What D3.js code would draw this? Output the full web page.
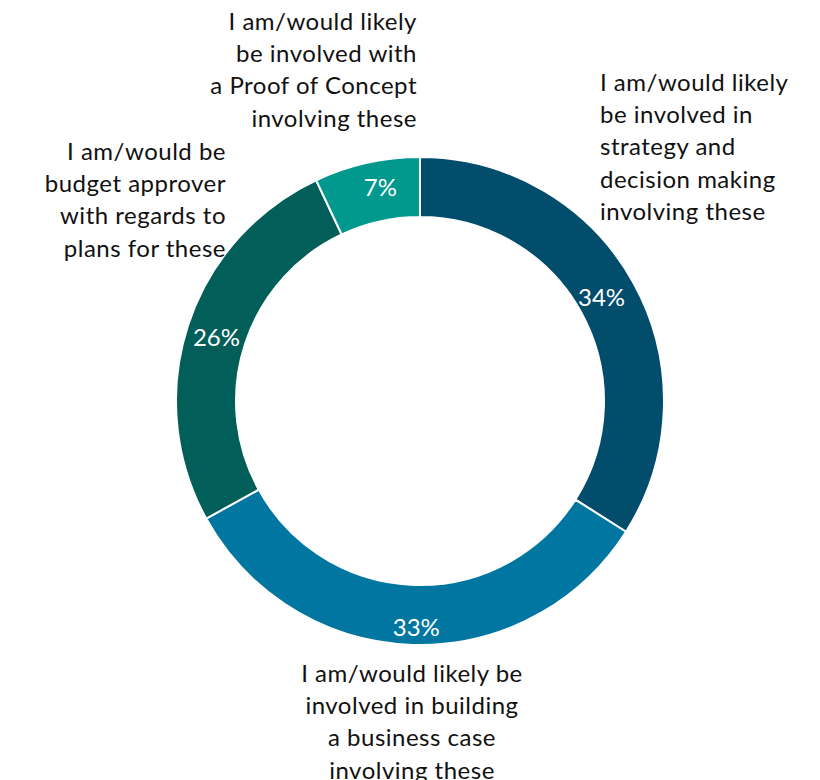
<!DOCTYPE html>
<html>
<head>
<meta charset="utf-8">
<script src="https://cdn.jsdelivr.net/npm/d3@7"></script>
<style>
  html, body { margin: 0; padding: 0; background: #ffffff; }
  svg { display: block; }
  .cat { font-family: Lato, "Open Sans", sans-serif; font-size: 24px; letter-spacing: 0.5px; fill: #111111; }
  .pct { font-family: Lato, "Open Sans", sans-serif; font-size: 24px; fill: #ffffff; }
</style>
</head>
<body>
<svg id="chart" width="820" height="780"></svg>
<script>
// Survey shares, clockwise from 12 o'clock
const categories = [
  "I am/would likely be involved in strategy and decision making involving these",
  "I am/would likely be involved in building a business case involving these",
  "I am/would be budget approver with regards to plans for these",
  "I am/would likely be involved with a Proof of Concept involving these"
];
const values = [34, 33, 26, 7];
const valueLabels = ["34%", "33%", "26%", "7%"];
// Wrapped category text, one entry per line
const categoryLines = [
  ["I am/would likely", "be involved in", "strategy and", "decision making", "involving these"],
  ["I am/would likely be", "involved in building", "a business case", "involving these"],
  ["I am/would be", "budget approver", "with regards to", "plans for these"],
  ["I am/would likely", "be involved with", "a Proof of Concept", "involving these"]
];
const colors = ["#024d6c", "#0076a1", "#015e59", "#01988e"];

const width = 820, height = 780;
const cx = 420, cy = 401;
const outerR = 244, innerR = 184;

const svg = d3.select("#chart");
const g = svg.append("g").attr("transform", `translate(${cx},${cy})`);

const pie = d3.pie().sort(null).value(d => d);
const arcs = pie(values);
const arc = d3.arc().innerRadius(innerR).outerRadius(outerR);

g.selectAll("path.slice")
  .data(arcs)
  .enter().append("path")
  .attr("class", "slice")
  .attr("d", arc)
  .attr("fill", (d, i) => colors[i])
  .attr("stroke", "#ffffff")
  .attr("stroke-width", 2);

// value labels sit mid-ring, with small per-slice nudges
const labelArc = d3.arc().innerRadius(214).outerRadius(214);
const nudge = [[-6, -1], [3, 12], [0, 2], [7, -6]];
g.selectAll("text.pct")
  .data(arcs)
  .enter().append("text")
  .attr("class", "pct")
  .attr("text-anchor", "middle")
  .attr("dominant-baseline", "central")
  .attr("transform", (d, i) => {
    const [x, y] = labelArc.centroid(d);
    return `translate(${x + nudge[i][0]},${y + nudge[i][1]})`;
  })
  .text((d, i) => valueLabels[i]);

// category labels placed outside the ring
const lineH = 32.4;
const catPlacement = [
  { x: 600, y: 81, anchor: "start" },
  { x: 412, y: 672, anchor: "middle" },
  { x: 226, y: 150, anchor: "end" },
  { x: 417, y: 20, anchor: "end" }
];
categoryLines.forEach((lines, i) => {
  const p = catPlacement[i];
  const t = svg.append("text")
    .attr("class", "cat")
    .attr("text-anchor", p.anchor);
  lines.forEach((ln, j) => {
    t.append("tspan")
      .attr("x", p.x)
      .attr("y", p.y + j * lineH)
      .attr("dominant-baseline", "central")
      .text(ln);
  });
});
</script>
</body>
</html>
